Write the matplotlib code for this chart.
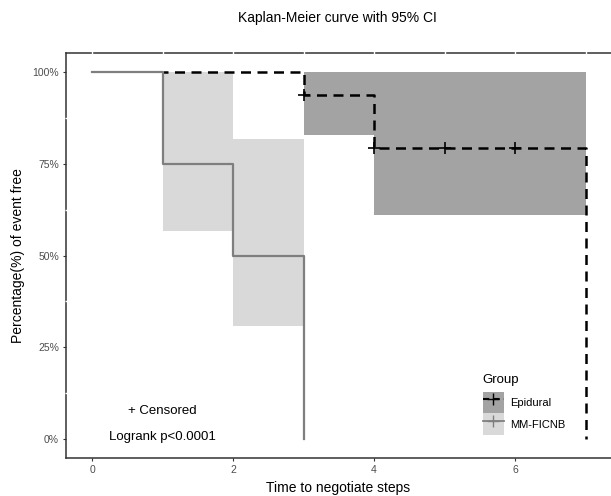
import matplotlib
matplotlib.use("Agg")
import matplotlib.pyplot as plt
from matplotlib.patches import Patch, Rectangle
from matplotlib.lines import Line2D
from matplotlib.ticker import FuncFormatter, MultipleLocator

plt.rcParams['font.family'] = ['Liberation Sans', 'DejaVu Sans']

# Kaplan-Meier estimates (step post)
epi_time = [0, 3, 4, 7]
epi_surv = [1.0, 0.939, 0.794, 0.0]
epi_lower = [1.0, 0.828, 0.610, 0.610]
epi_upper = [1.0, 1.0, 1.0, 1.0]
epi_cens_t = [3, 4, 5, 6]
epi_cens_s = [0.939, 0.794, 0.794, 0.794]

mm_time = [0, 1, 2, 3]
mm_surv = [1.0, 0.75, 0.5, 0.0]
mm_lower = [1.0, 0.567, 0.308, 0.308]
mm_upper = [1.0, 1.0, 0.817, 0.817]

groups = ['Epidural', 'MM-FICNB']
fill_cols = ['#a3a3a3', '#d9d9d9']
line_cols = ['black', '#7f7f7f']

fig = plt.figure(figsize=(6.11, 4.96), dpi=100)
ax = fig.add_axes([0.108, 0.0766, 0.892, 0.8164])

# confidence bands
ax.fill_between(epi_time, epi_lower, epi_upper, step='post',
                color=fill_cols[0], lw=0, zorder=1)
ax.fill_between(mm_time, mm_lower, mm_upper, step='post',
                color=fill_cols[1], lw=0, zorder=1.1)

# curves; the dashed one is hidden under the grey one until the first drop
epi_line, = ax.step(epi_time, epi_surv, where='post', color=line_cols[0], lw=1.8,
                    ls=(0, (4, 2.6)), zorder=2)
hide = Rectangle((mm_time[1] + 0.02, -1), 20, 3, transform=ax.transData)
epi_line.set_clip_path(hide)
ax.step(mm_time, mm_surv, where='post', color=line_cols[1], lw=1.6, zorder=2.2)
ax.plot(epi_cens_t, epi_cens_s, ls='none', marker='+', ms=8, mew=1.2,
        color='black', zorder=3)

ax.set_xlim(-0.37, 7.36)
ax.set_ylim(-0.052, 1.052)
ax.xaxis.set_major_locator(MultipleLocator(2))
ax.yaxis.set_major_locator(MultipleLocator(0.25))
ax.yaxis.set_major_formatter(FuncFormatter(lambda v, p: f"{int(round(v * 100))}%"))
ax.tick_params(labelsize=7.5, labelcolor='#4d4d4d', color='#333333',
               length=2.5, width=0.8, pad=2.5)

for side in ['left', 'bottom', 'top']:
    ax.spines[side].set_color('#333333')
    ax.spines[side].set_linewidth(1.1)
ax.spines['right'].set_visible(False)

# white grid traces crossing the top and left border
ax.vlines(range(0, 8), 1.04, 1.07, colors='white', lw=1, zorder=5, clip_on=False)
ax.hlines([0.125, 0.375, 0.625, 0.875], -0.39, -0.35, colors='white', lw=1,
          zorder=5, clip_on=False)

ax.set_xlabel('Time to negotiate steps', fontsize=10, labelpad=4)
ax.set_ylabel('Percentage(%) of event free', fontsize=10, labelpad=5)
fig.text(0.553, 1 - 18 / 496, 'Kaplan-Meier curve with 95% CI',
         ha='center', va='center', fontsize=10)

ax.text(1.0, 0.077, '+ Censored', ha='center', va='center', fontsize=9.5)
ax.text(1.0, 0.006, 'Logrank p<0.0001', ha='center', va='center', fontsize=9.5)

handles = [
    (Patch(facecolor=fill_cols[0], edgecolor='none'),
     Line2D([], [], color='black', ls=(0, (3, 2)), lw=1.5, marker='+', ms=8)),
    (Patch(facecolor=fill_cols[1], edgecolor='none'),
     Line2D([], [], color=line_cols[1], lw=1.3, marker='+', ms=8)),
]
leg = ax.legend(handles, groups, title='Group', loc='lower left',
                bbox_to_anchor=(0.748, 0.035), frameon=False, fontsize=8,
                title_fontsize=9.5, handlelength=1.9, handleheight=2.6,
                handletextpad=0.6, labelspacing=0.0, borderpad=0.3)
leg._legend_box.align = 'left'
leg._legend_box.sep = 4

fig.savefig('out.png', dpi=100)
